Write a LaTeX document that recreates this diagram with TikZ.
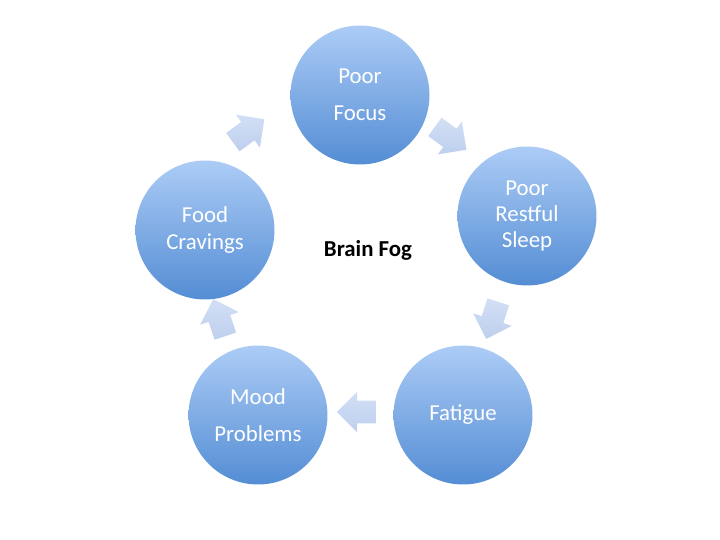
\documentclass[tikz,border=0pt]{standalone}
\usepackage{fontspec}
\setmainfont{Carlito}
\usetikzlibrary{shapes.arrows}

\definecolor{circtop}{RGB}{172,204,246}
\definecolor{circbot}{RGB}{84,141,212}
\definecolor{arrtop}{RGB}{210,223,245}
\definecolor{arrbot}{RGB}{190,207,238}

\begin{document}
\begin{tikzpicture}[x=0.02cm, y=-0.02cm,
        bubble/.style={circle, minimum size=2.78cm, inner sep=0pt, top color=circtop, bottom color=circbot,
            text=white, align=center, font=\fontsize{13}{15}\selectfont},
        cyclearrow/.style={single arrow, minimum height=0.78cm, minimum width=0.8cm, inner xsep=0pt, inner ysep=0.22cm,
            single arrow head extend=0.18cm, top color=arrtop, bottom color=arrbot, rotate=#1}]
            \useasboundingbox (0,0) rectangle (720,540);
            % the five stages
            \node[bubble] (focus) at (360,95) {Poor\\[6pt]Focus};
            \node[bubble] (sleep) at (527,216) {Poor\\Restful\\Sleep};
            \node[bubble] (fatigue) at (463,415) {Fatigue};
            \node[bubble] (mood) at (258,415) {Mood\\[6pt]Problems};
            \node[bubble] (food) at (205,230) {Food\\Cravings};
            % centre label
            \node[font=\bfseries\fontsize{13}{15}\selectfont] (fog) at (368,250) {Brain Fog};
            % block arrows round the cycle
            \node[cyclearrow=-36] (arr1) at (446,135) {};
            \node[cyclearrow=-108] (arr2) at (494,315) {};
            \node[cyclearrow=180] (arr3) at (362,412) {};
            \node[cyclearrow=108] (arr4) at (221,323) {};
            \node[cyclearrow=36] (arr5) at (244,134) {};
\end{tikzpicture}
\end{document}
